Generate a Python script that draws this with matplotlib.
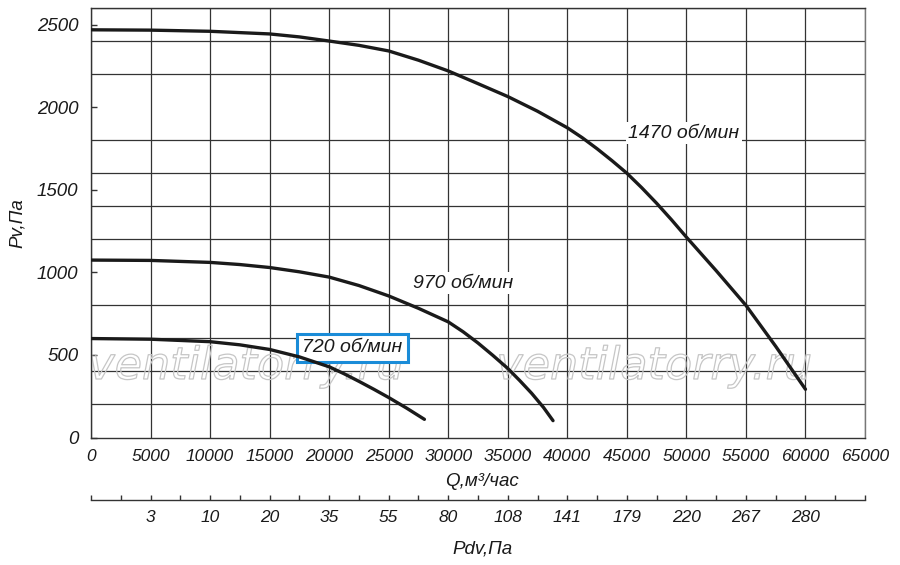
import matplotlib
matplotlib.use("Agg")
import matplotlib.pyplot as plt
import matplotlib.patheffects as pe

plt.rcParams['font.family'] = ['Liberation Sans', 'DejaVu Sans']
plt.rcParams['font.style'] = 'italic'

# ---- data ----
q_1470 = [0, 5000, 10000, 15000, 17500, 20000, 22500, 25000, 27500, 30000, 32500,
          35000, 37500, 40000, 41250, 42500, 43750, 45000, 46250, 47500, 48750,
          50000, 52500, 55000, 57500, 60000]
p_1470 = [2468, 2466, 2459, 2443, 2425, 2400, 2374, 2340, 2284, 2219, 2142,
          2064, 1975, 1875, 1815, 1748, 1676, 1600, 1512, 1418, 1318,
          1213, 1010, 800, 552, 292]

q_970 = [0, 5000, 10000, 12500, 15000, 17500, 20000, 22500, 25000, 27500, 30000,
         31250, 32500, 33750, 35000, 36000, 37000, 38000, 38800]
p_970 = [1074, 1072, 1060, 1047, 1029, 1003, 971, 920, 857, 782, 700,
         640, 572, 497, 418, 345, 268, 182, 102]

q_720 = [0, 5000, 10000, 12500, 15000, 17500, 20000, 21250, 22500, 23750, 25000,
         26500, 28000]
p_720 = [599, 595, 580, 561, 533, 488, 428, 386, 340, 292, 242, 178, 110]

curve_labels = ['1470 об/мин', '970 об/мин', '720 об/мин']

q_ticks = list(range(0, 65001, 5000))
pv_ticks = list(range(0, 2501, 500))
pv_grid = list(range(0, 2601, 200))
pdv_labels = ['', '3', '10', '20', '35', '55', '80', '108', '141', '179', '220', '267', '280', '']

W, H = 900, 565
fig = plt.figure(figsize=(W / 100, H / 100), dpi=100)
fig.patch.set_facecolor('white')

L, R, T, B = 91, 865, 8, 437.5
ax = fig.add_axes([L / W, 1 - B / H, (R - L) / W, (B - T) / H])
ax.set_xlim(0, 65000)
ax.set_ylim(0, 2600)

gcol = '#333333'
ax.set_xticks(q_ticks)
ax.set_xticklabels([str(v) for v in q_ticks])
ax.set_yticks(pv_ticks)
ax.set_yticklabels([str(v) for v in pv_ticks])
ax.set_yticks(pv_grid, minor=True)
ax.xaxis.grid(True, which='major', color=gcol, lw=0.9)
ax.yaxis.grid(False, which='major')
ax.yaxis.grid(True, which='minor', color=gcol, lw=0.9)
ax.set_axisbelow(True)
ax.tick_params(axis='x', which='major', length=0, pad=8, labelsize=12.5, labelcolor='#1a1a1a')
ax.tick_params(axis='y', which='major', direction='in', length=4, width=1, color=gcol,
               pad=9, labelsize=13.5, labelcolor='#1a1a1a')
ax.tick_params(axis='y', which='minor', length=0)
for s in ax.spines.values():
    s.set_color(gcol)
    s.set_linewidth(1.0)
ax.spines['right'].set_color('#777777')

# watermark (outlined text)
for cx in (246.5, 654.5):
    ax.text(cx / W, 1 - 379 / H, 'ventilatorry.ru', transform=fig.transFigure,
            ha='center', va='baseline', fontsize=32, family='DejaVu Sans', style='oblique',
            color=(1, 1, 1, 0), zorder=2, clip_on=False,
            path_effects=[pe.Stroke(linewidth=0.9, foreground='#c6c6c6')])

# curves
for q, p in ((q_1470, p_1470), (q_970, p_970), (q_720, p_720)):
    ax.plot(q, p, color='#1a1a1a', lw=2.4, solid_capstyle='round',
            solid_joinstyle='round', zorder=5)

# curve labels
ax.text(49800, 1843, curve_labels[0], fontsize=14, ha='center', va='center', color='#1a1a1a',
        zorder=4, bbox=dict(boxstyle='square,pad=0.12', fc='white', ec='none'))
ax.text(31282, 935, curve_labels[1], fontsize=14, ha='center', va='center', color='#1a1a1a',
        zorder=4, bbox=dict(boxstyle='square,pad=0.12', fc='white', ec='none'))
ax.text(21960, 542, curve_labels[2], fontsize=14, ha='center', va='center', color='#1a1a1a',
        zorder=4, bbox=dict(boxstyle='square,pad=0.28', fc='white', ec='#1a8cd8', lw=2.2))

# secondary (dynamic pressure) axis
ax2 = fig.add_axes([L / W, 1 - 500 / H, (R - L) / W, 0.0001])
ax2.set_xlim(0, 65000)
ax2.set_ylim(0, 1)
ax2.set_yticks([])
for k in ('top', 'left', 'right'):
    ax2.spines[k].set_visible(False)
ax2.spines['bottom'].set_color(gcol)
ax2.spines['bottom'].set_linewidth(1.0)
ax2.patch.set_alpha(0)
ax2.set_xticks(q_ticks)
ax2.set_xticklabels(pdv_labels)
ax2.set_xticks([v + 2500 for v in q_ticks[:-1]], minor=True)
ax2.tick_params(axis='x', which='both', direction='in', length=3.5, width=1, color=gcol)
ax2.tick_params(axis='x', which='major', pad=7, labelsize=12.5, labelcolor='#1a1a1a')

# axis titles
fig.text(17 / W, 1 - 223 / H, 'Pv,Па', rotation=90, ha='center', va='center',
         fontsize=13.5, color='#1a1a1a')
fig.text(482 / W, 1 - 481 / H, 'Q,м³/час', ha='center', va='center',
         fontsize=13.5, color='#1a1a1a')
fig.text(482 / W, 1 - 549 / H, 'Pdv,Па', ha='center', va='center',
         fontsize=13.5, color='#1a1a1a')

fig.savefig('out.png', dpi=100, facecolor='white')
